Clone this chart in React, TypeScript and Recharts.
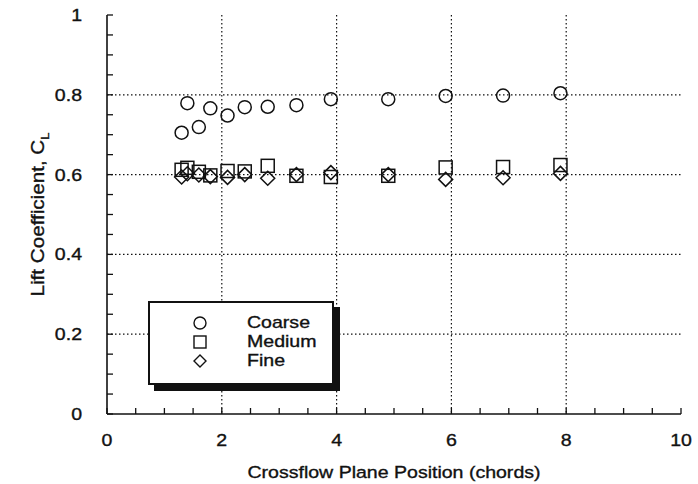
import React from 'react';
import { ScatterChart, Scatter, XAxis, YAxis, CartesianGrid, Legend } from 'recharts';

// Crossflow plane positions (chords) and lift coefficients for each grid level
const planePositions = [1.3, 1.4, 1.6, 1.8, 2.1, 2.4, 2.8, 3.3, 3.9, 4.9, 5.9, 6.9, 7.9];
const coarseCL = [0.705, 0.779, 0.719, 0.766, 0.748, 0.769, 0.770, 0.774, 0.789, 0.789, 0.797, 0.798, 0.804];
const mediumCL = [0.612, 0.617, 0.607, 0.598, 0.609, 0.608, 0.622, 0.597, 0.594, 0.597, 0.618, 0.619, 0.624];
const fineCL = [0.594, 0.602, 0.599, 0.595, 0.593, 0.600, 0.591, 0.600, 0.605, 0.600, 0.588, 0.592, 0.603];
const seriesOrder = ['Coarse', 'Medium', 'Fine'];

const xMajorTicks = [0, 2, 4, 6, 8, 10];
const xAllTicks = [0, 0.5, 1, 1.5, 2, 2.5, 3, 3.5, 4, 4.5, 5, 5.5, 6, 6.5, 7, 7.5, 8, 8.5, 9, 9.5, 10];
const yMajorTicks = [0, 0.2, 0.4, 0.6, 0.8, 1];
const yAllTicks = [0, 0.05, 0.1, 0.15, 0.2, 0.25, 0.3, 0.35, 0.4, 0.45, 0.5, 0.55, 0.6, 0.65, 0.7, 0.75, 0.8, 0.85, 0.9, 0.95, 1];
const xGridLines = [2, 4, 6, 8];
const yGridLines = [0.2, 0.4, 0.6, 0.8];

const toPoints = (values: number[]) => planePositions.map((x, i) => ({ x, y: values[i] }));
const coarseData = toPoints(coarseCL);
const mediumData = toPoints(mediumCL);
const fineData = toPoints(fineCL);

const FONT = '"Liberation Sans", Arial, Helvetica, sans-serif';
const INK = '#111';
const TICK = 6;
const textInk = { fill: INK, stroke: INK, strokeWidth: 0.35 };

const isMajor = (list: number[], v: number) => list.some((m) => Math.abs(m - v) < 1e-9);

const BottomTick = (props: any) => {
  const { x, y, payload } = props;
  const v = payload.value;
  return (
    <g>
      <line x1={x} y1={y} x2={x} y2={y - TICK} stroke={INK} strokeWidth={1.3} />
      {isMajor(xMajorTicks, v) && (
        <text
          transform={`translate(${x},${y + 32}) scale(1.15,1)`}
          textAnchor="middle"
          fontFamily={FONT}
          fontSize={17}
          {...textInk}
        >
          {v}
        </text>
      )}
    </g>
  );
};

const TopTick = (props: any) => {
  const { x, y } = props;
  return <line x1={x} y1={y} x2={x} y2={y + TICK} stroke={INK} strokeWidth={1.3} />;
};

const LeftTick = (props: any) => {
  const { x, y, payload } = props;
  const v = payload.value;
  return (
    <g>
      <line x1={x} y1={y} x2={x + TICK} y2={y} stroke={INK} strokeWidth={1.3} />
      {isMajor(yMajorTicks, v) && (
        <text
          transform={`translate(${x - 25},${y + 6}) scale(1.15,1)`}
          textAnchor="end"
          fontFamily={FONT}
          fontSize={17}
          {...textInk}
        >
          {v}
        </text>
      )}
    </g>
  );
};

const RightTick = (props: any) => {
  const { x, y } = props;
  return <line x1={x} y1={y} x2={x - TICK} y2={y} stroke={INK} strokeWidth={1.3} />;
};

const XTitle = (props: any) => {
  const vb = props.viewBox || { x: 107, y: 414, width: 574, height: 40 };
  const cx = vb.x + vb.width / 2;
  return (
    <text
      transform={`translate(${cx},${vb.y + 64}) scale(1.15,1)`}
      textAnchor="middle"
      fontFamily={FONT}
      fontSize={17}
      {...textInk}
    >
      Crossflow Plane Position (chords)
    </text>
  );
};

const YTitle = (props: any) => {
  const vb = props.viewBox || { x: 47, y: 15, width: 60, height: 399 };
  const cy = vb.y + vb.height / 2;
  return (
    <text
      transform={`translate(44,${cy}) rotate(-90) scale(1.18,1)`}
      textAnchor="middle"
      fontFamily={FONT}
      fontSize={17.5}
      {...textInk}
    >
      Lift Coefficient, C
      <tspan fontSize={11} dy={5}>L</tspan>
    </text>
  );
};

const CircleMark = (props: any) => (
  <circle cx={props.cx} cy={props.cy} r={6.5} fill="none" stroke={INK} strokeWidth={1.5} />
);
const SquareMark = (props: any) => (
  <rect x={props.cx - 6.5} y={props.cy - 6.5} width={13} height={13} fill="none" stroke={INK} strokeWidth={1.5} />
);
const DiamondMark = (props: any) => {
  const { cx, cy } = props;
  return (
    <path
      d={`M${cx},${cy - 7}L${cx + 7},${cy}L${cx},${cy + 7}L${cx - 7},${cy}Z`}
      fill="none"
      stroke={INK}
      strokeWidth={1.5}
    />
  );
};

const LegendIcon = ({ type }: { type: string }) => (
  <svg width={16} height={16} style={{ display: 'block' }}>
    {type === 'circle' && <circle cx={8} cy={8} r={6} fill="none" stroke={INK} strokeWidth={1.4} />}
    {type === 'square' && <rect x={2} y={2} width={12} height={12} fill="none" stroke={INK} strokeWidth={1.4} />}
    {type === 'diamond' && <path d="M8,2L14,8L8,14L2,8Z" fill="none" stroke={INK} strokeWidth={1.4} />}
  </svg>
);

const LegendBox = (props: any) => {
  const payload = [...(props.payload || [])].sort(
    (a: any, b: any) => seriesOrder.indexOf(a.value) - seriesOrder.indexOf(b.value)
  );
  return (
    <div
      style={{
        boxSizing: 'border-box',
        width: 186,
        height: 84,
        border: `2.5px solid ${INK}`,
        boxShadow: `6px 6px 0 ${INK}`,
        background: '#fff',
        paddingTop: 10,
      }}
    >
      {payload.map((entry: any) => (
        <div key={entry.value} style={{ display: 'flex', alignItems: 'center', height: 19 }}>
          <div style={{ width: 97, flexShrink: 0, paddingLeft: 41.5, boxSizing: 'border-box' }}>
            <LegendIcon type={entry.type} />
          </div>
          <span
            style={{
              fontFamily: FONT,
              fontSize: 17,
              color: INK,
              WebkitTextStroke: `0.35px ${INK}`,
              display: 'inline-block',
              transform: 'scale(1.15,1)',
              transformOrigin: 'left center',
              lineHeight: '19px',
            }}
          >
            {entry.value}
          </span>
        </div>
      ))}
    </div>
  );
};

export default function App() {
  return (
    <div style={{ position: 'absolute', left: 0, top: 0, background: '#fff' }}>
      <ScatterChart width={698} height={484} margin={{ top: 15, right: 17, bottom: 30, left: 47 }}>
        <CartesianGrid
          xAxisId="b"
          yAxisId="l"
          horizontalValues={yGridLines}
          verticalValues={xGridLines}
          stroke={INK}
          strokeWidth={1.2}
          strokeDasharray="1.5 2.5"
        />
        <XAxis
          xAxisId="b"
          type="number"
          dataKey="x"
          domain={[0, 10]}
          ticks={xAllTicks}
          interval={0}
          height={40}
          tickSize={0}
          tickMargin={0}
          tickLine={false}
          axisLine={{ stroke: INK, strokeWidth: 1.6 }}
          tick={<BottomTick />}
          label={<XTitle />}
        />
        <XAxis
          xAxisId="t"
          orientation="top"
          type="number"
          dataKey="x"
          domain={[0, 10]}
          ticks={xAllTicks}
          interval={0}
          height={0}
          tickSize={0}
          tickMargin={0}
          tickLine={false}
          axisLine={{ stroke: INK, strokeWidth: 1.6 }}
          tick={<TopTick />}
        />
        <YAxis
          yAxisId="l"
          type="number"
          dataKey="y"
          domain={[0, 1]}
          ticks={yAllTicks}
          interval={0}
          width={60}
          tickSize={0}
          tickMargin={0}
          tickLine={false}
          axisLine={{ stroke: INK, strokeWidth: 1.6 }}
          tick={<LeftTick />}
          label={<YTitle />}
        />
        <YAxis
          yAxisId="r"
          orientation="right"
          type="number"
          dataKey="y"
          domain={[0, 1]}
          ticks={yAllTicks}
          interval={0}
          width={0}
          tickSize={0}
          tickMargin={0}
          tickLine={false}
          axisLine={{ stroke: INK, strokeWidth: 1.6 }}
          tick={<RightTick />}
        />
        <Legend
          layout="vertical"
          align="center"
          verticalAlign="middle"
          content={<LegendBox />}
          wrapperStyle={{ left: 148, top: 301, width: 186, height: 84 }}
        />
        <Scatter
          name="Coarse"
          data={coarseData}
          xAxisId="b"
          yAxisId="l"
          legendType="circle"
          shape={<CircleMark />}
          isAnimationActive={false}
        />
        <Scatter
          name="Medium"
          data={mediumData}
          xAxisId="b"
          yAxisId="l"
          legendType="square"
          shape={<SquareMark />}
          isAnimationActive={false}
        />
        <Scatter
          name="Fine"
          data={fineData}
          xAxisId="b"
          yAxisId="l"
          legendType="diamond"
          shape={<DiamondMark />}
          isAnimationActive={false}
        />
      </ScatterChart>
    </div>
  );
}
